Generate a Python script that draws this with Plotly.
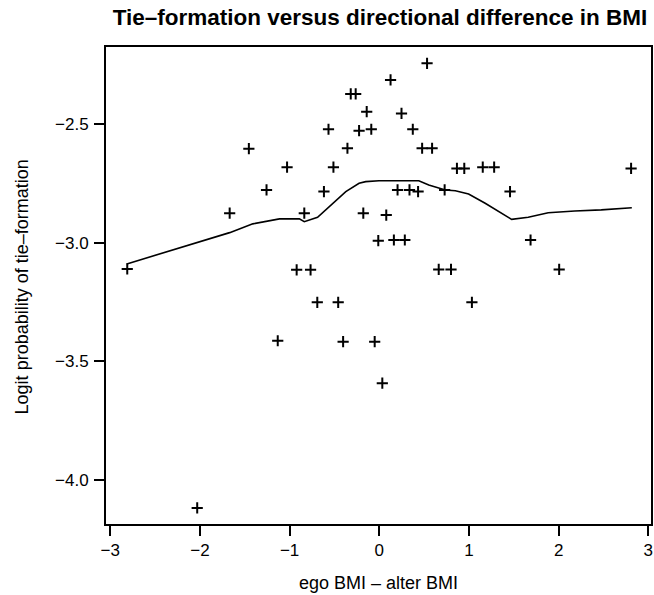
import plotly.graph_objects as go

# Scatter points: ego BMI - alter BMI vs logit probability of tie-formation
pt_x = [-2.81, -2.03, -1.668, -1.454, -1.257, -1.028, -0.836, -0.921, -0.766,
        -0.617, -0.566, -0.511, -0.355, -0.318, -0.263, -0.140, -0.225, -0.089,
        -0.178, -0.011, 0.533, 0.126, 0.248, 0.374, 0.478, 0.589, 0.866, 0.948,
        1.154, 1.281, 2.808, 0.204, 0.337, 0.433, 0.729, 1.458, 0.078, 0.163,
        0.285, 1.687, 0.663, 0.800, 2.006, -1.132, -0.691, -0.458, -0.403,
        -0.051, 1.033, 0.034]
pt_y = [-3.11, -4.118, -2.875, -2.603, -2.777, -2.681, -2.875, -3.114, -3.114,
        -2.784, -2.521, -2.681, -2.601, -2.372, -2.372, -2.447, -2.527, -2.521,
        -2.875, -2.991, -2.243, -2.313, -2.454, -2.521, -2.601, -2.601, -2.686,
        -2.686, -2.681, -2.681, -2.686, -2.777, -2.777, -2.784, -2.777, -2.784,
        -2.883, -2.988, -2.988, -2.988, -3.112, -3.112, -3.112, -3.413, -3.251,
        -3.251, -3.417, -3.417, -3.251, -3.592]

# Smoothed curve
line_x = [-2.815, -2.371, -2.001, -1.668, -1.41, -1.113, -0.891, -0.836, -0.688,
          -0.522, -0.373, -0.225, -0.151, -0.003, 0.237, 0.441, 0.552, 0.737,
          0.848, 0.996, 1.181, 1.365, 1.476, 1.661, 1.884, 2.180, 2.475, 2.816]
line_y = [-3.089, -3.037, -2.995, -2.957, -2.92, -2.899, -2.899, -2.911, -2.892,
          -2.833, -2.784, -2.749, -2.742, -2.738, -2.738, -2.738, -2.756, -2.777,
          -2.780, -2.794, -2.833, -2.875, -2.901, -2.892, -2.873, -2.866, -2.861,
          -2.852]

x_ticks = [-3, -2, -1, 0, 1, 2, 3]
y_ticks = [-4.0, -3.5, -3.0, -2.5]

FONT = "Liberation Sans, Arial, sans-serif"

fig = go.Figure()
fig.add_trace(go.Scatter(
    x=pt_x, y=pt_y, mode="markers",
    marker=dict(symbol="cross-thin", size=8, color="black",
                line=dict(color="black", width=2)),
    showlegend=False,
))
fig.add_trace(go.Scatter(
    x=line_x, y=line_y, mode="lines",
    line=dict(color="black", width=1.6),
    showlegend=False,
))

axis_common = dict(
    showline=True, linecolor="black", linewidth=2, mirror=True,
    ticks="outside", tickcolor="black", tickwidth=1.5, ticklen=10,
    showgrid=False, zeroline=False,
    tickfont=dict(family=FONT, size=17, color="black"),
)

fig.update_layout(
    width=654, height=595,
    margin=dict(l=106, r=1, t=47, b=71),
    paper_bgcolor="white", plot_bgcolor="white",
    title=dict(text="<b>Tie–formation versus directional difference in BMI</b>",
               x=380 / 654, xanchor="center", y=1 - 17 / 595, yanchor="middle",
               font=dict(family=FONT, size=22.5, color="black")),
    xaxis=dict(range=[-3.047, 3.03], tickvals=x_ticks,
               ticktext=[("−" + str(abs(v))) if v < 0 else str(v) for v in x_ticks],
               **axis_common),
    yaxis=dict(range=[-4.186, -2.174], tickvals=y_ticks,
               ticktext=["−%.1f" % abs(v) for v in y_ticks],
               ticklabelstandoff=2,
               **axis_common),
    annotations=[
        dict(text="ego BMI – alter BMI", xref="paper", yref="paper",
             x=0.5, y=0, yshift=-59, xanchor="center", yanchor="middle",
             showarrow=False, font=dict(family=FONT, size=18, color="black")),
        dict(text="Logit probability of tie–formation", xref="paper", yref="paper",
             x=0, y=0.496, xshift=-84, xanchor="center", yanchor="middle",
             textangle=-90, showarrow=False,
             font=dict(family=FONT, size=18, color="black")),
    ],
)

fig.write_html("out.html",
               config={"displayModeBar": False},
               post_script="document.body.style.margin='0';document.body.style.overflow='hidden';")
